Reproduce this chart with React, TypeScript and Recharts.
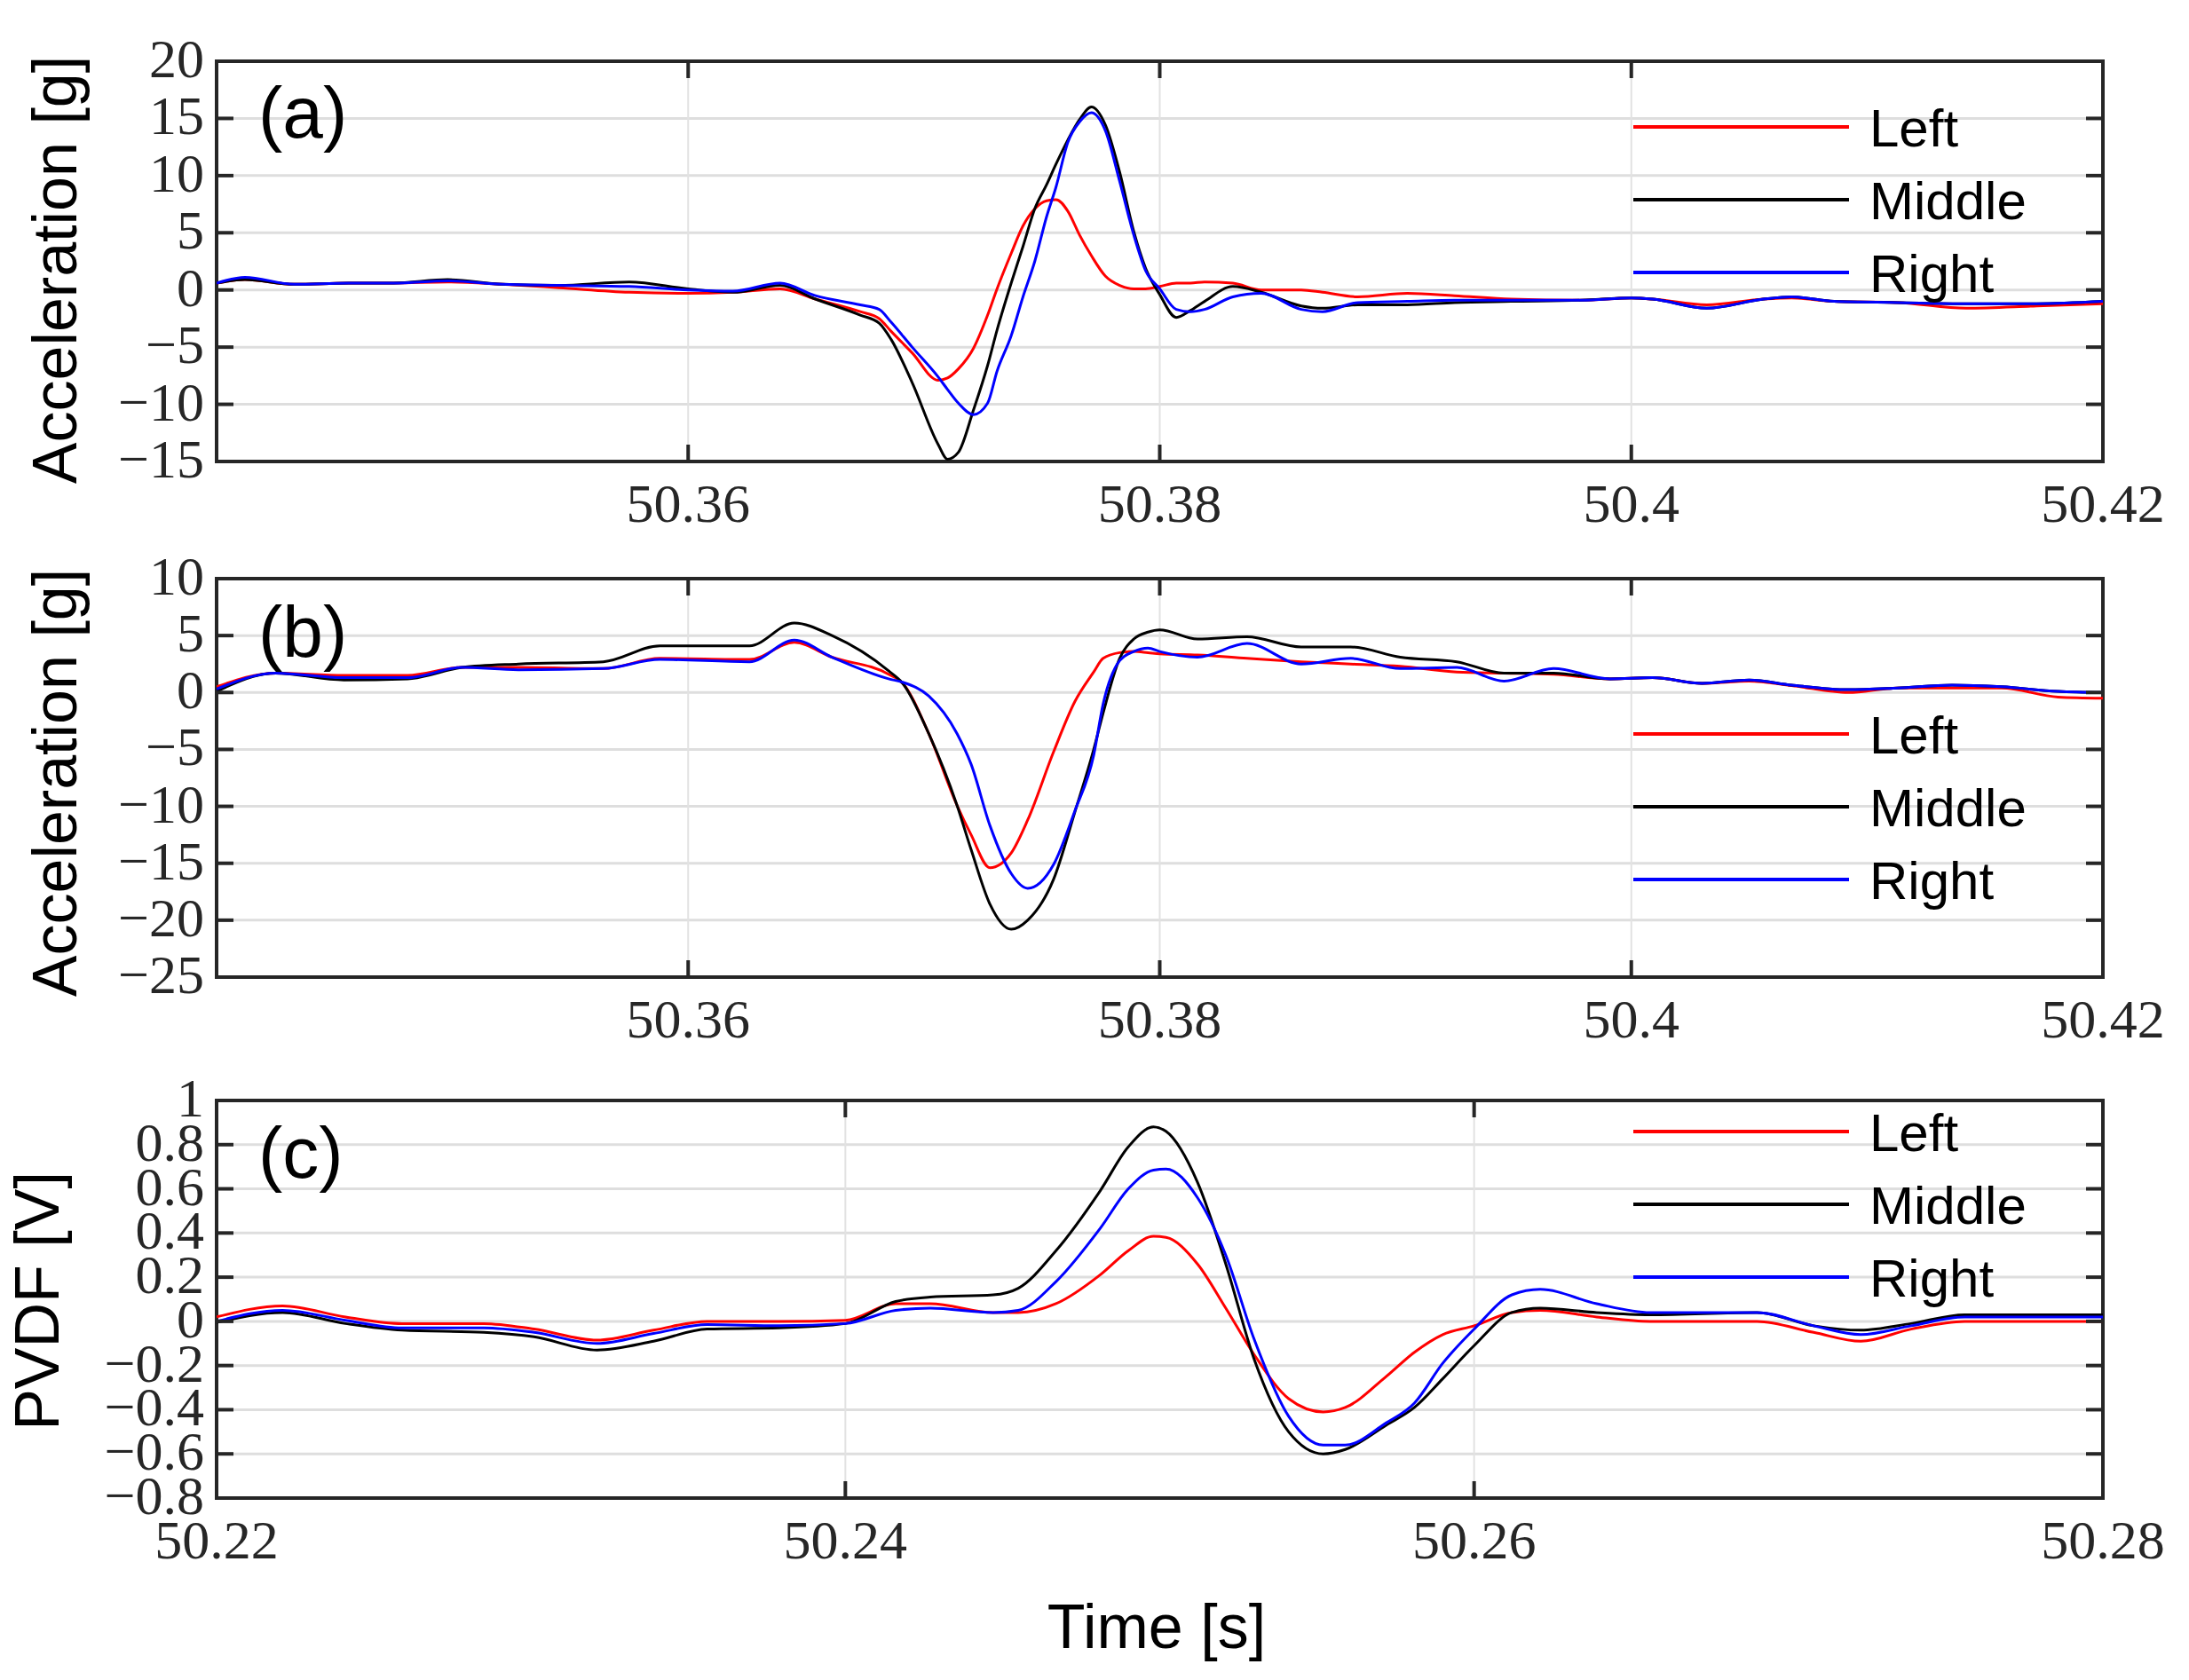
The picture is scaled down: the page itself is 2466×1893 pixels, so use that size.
import React from "react";
import {
  CartesianGrid,
  Legend,
  Line,
  LineChart,
  ReferenceArea,
  XAxis,
  YAxis,
} from "recharts";

// ---- data ----

// (a) acceleration, first event
const timeA = [
  50.34, 50.3412, 50.3433, 50.3456, 50.3475, 50.3498, 50.3521, 50.3545, 50.3575, 50.36,
  50.3619, 50.3639, 50.3654, 50.3673, 50.3681, 50.3686, 50.3695, 50.3706, 50.371, 50.37146,
  50.3721, 50.3727, 50.3731, 50.3737, 50.3742, 50.3747, 50.3752, 50.3756, 50.3761, 50.3766,
  50.3771, 50.3777, 50.3783, 50.3789, 50.3794, 50.38, 50.3807, 50.3813, 50.3819, 50.3831,
  50.3843, 50.386, 50.3869, 50.3884, 50.3905, 50.3925, 50.3949, 50.3979, 50.4, 50.4009,
  50.4032, 50.4056, 50.4068, 50.4086, 50.4113, 50.4142, 50.4172, 50.42,
];
const leftA = [
  0.6, 0.9, 0.5, 0.6, 0.6, 0.7, 0.5, 0.2, -0.2, -0.3,
  -0.2, 0.1, -0.8, -1.9, -2.5, -3.6, -5.5, -7.9, -7.7, -6.9,
  -5.1, -2.2, 0.1, 3.2, 5.6, 7.1, 7.8, 7.9, 6.9, 4.8,
  3.0, 1.2, 0.4, 0.1, 0.1, 0.3, 0.6, 0.6, 0.7, 0.6,
  0.0, 0.0, -0.2, -0.6, -0.3, -0.5, -0.8, -0.9, -0.7, -0.8,
  -1.3, -0.8, -0.7, -1.0, -1.1, -1.6, -1.4, -1.2,
];
const middleA = [
  0.6, 0.9, 0.5, 0.6, 0.6, 0.9, 0.5, 0.4, 0.7, 0.1,
  -0.2, 0.4, -0.8, -2.2, -2.9, -4.3, -8.1, -13.5, -14.8, -14.2,
  -10.5, -6.6, -3.5, 0.6, 3.8, 7.1, 9.2, 11.0, 13.1, 14.9,
  16.0, 14.4, 10.3, 5.1, 1.9, -0.4, -2.4, -1.8, -1.0, 0.3,
  -0.2, -1.4, -1.6, -1.3, -1.3, -1.1, -1.0, -0.9, -0.7, -0.8,
  -1.6, -0.8, -0.6, -1.0, -1.1, -1.2, -1.2, -1.0,
];
const rightA = [
  0.6, 1.1, 0.5, 0.6, 0.6, 0.8, 0.5, 0.4, 0.3, 0.0,
  -0.1, 0.6, -0.5, -1.3, -1.7, -2.8, -5.0, -7.6, -8.7, -9.9,
  -10.9, -9.9, -7.1, -4.0, -0.6, 2.5, 6.4, 9.0, 12.9, 14.7,
  15.5, 13.9, 9.5, 4.8, 1.7, 0.1, -1.7, -1.9, -1.7, -0.6,
  -0.3, -1.7, -1.9, -1.1, -1.0, -0.9, -0.9, -0.9, -0.7, -0.8,
  -1.6, -0.8, -0.6, -1.0, -1.1, -1.2, -1.2, -1.0,
];

// (b) acceleration, second event
const timeB = [
  50.34, 50.3425, 50.3454, 50.3481, 50.3504, 50.3528, 50.3564, 50.3588, 50.3626, 50.3645,
  50.3661, 50.3685, 50.3691, 50.3702, 50.3714, 50.372, 50.3728, 50.3737, 50.3744, 50.3755,
  50.3764, 50.3772, 50.3776, 50.3783, 50.3789, 50.3795, 50.38, 50.3816, 50.3837, 50.386,
  50.3881, 50.3902, 50.3926, 50.3946, 50.3967, 50.3991, 50.4009, 50.403, 50.405, 50.4068,
  50.4092, 50.4113, 50.4136, 50.4157, 50.4181, 50.42,
];
const leftB = [
  0.5, 1.7, 1.5, 1.5, 2.2, 2.2, 2.1, 3.0, 2.9, 4.4,
  3.1, 1.6, 0.8, -3.6, -9.9, -12.5, -15.4, -14.1, -11.2, -5.2,
  -0.8, 1.8, 3.0, 3.5, 3.6, 3.5, 3.4, 3.3, 3.0, 2.7,
  2.5, 2.3, 1.8, 1.7, 1.6, 1.2, 1.3, 0.8, 1.0, 0.6,
  0.0, 0.4, 0.4, 0.4, -0.4, -0.5,
];
const middleB = [
  0.1, 1.7, 1.1, 1.2, 2.2, 2.5, 2.7, 4.1, 4.1, 6.1,
  5.0, 1.9, 0.8, -3.6, -9.9, -13.8, -18.6, -20.8, -20.0, -16.4,
  -10.5, -5.0, -1.8, 3.0, 4.7, 5.3, 5.5, 4.7, 4.9, 4.0,
  4.0, 3.1, 2.7, 1.7, 1.7, 1.2, 1.3, 0.8, 1.1, 0.65,
  0.25, 0.4, 0.65, 0.5, 0.1, 0.0,
];
const rightB = [
  0.3, 1.7, 1.3, 1.3, 2.2, 2.0, 2.1, 2.9, 2.7, 4.6,
  3.1, 1.2, 0.9, -0.3, -3.6, -6.3, -11.7, -15.9, -17.2, -15.1,
  -10.4, -5.5, -1.0, 2.8, 3.6, 3.9, 3.6, 3.1, 4.3, 2.5,
  3.0, 2.1, 2.2, 1.0, 2.1, 1.2, 1.3, 0.8, 1.1, 0.65,
  0.25, 0.4, 0.65, 0.5, 0.1, 0.0,
];

// (c) PVDF voltage
const timeC = [
  50.22, 50.2221, 50.2241, 50.2259, 50.2285, 50.2301, 50.2321, 50.2339, 50.2356, 50.2379,
  50.24, 50.2416, 50.2427, 50.2447, 50.2455, 50.2467, 50.2481, 50.249, 50.2498, 50.2502,
  50.2512, 50.2521, 50.253, 50.2541, 50.2552, 50.2559, 50.2572, 50.2581, 50.259, 50.26,
  50.2612, 50.2621, 50.2639, 50.2656, 50.269, 50.2708, 50.2723, 50.2739, 50.2756, 50.28,
];
const leftC = [
  0.02, 0.07, 0.02, -0.01, -0.01, -0.035, -0.085, -0.04, 0.0, 0.0,
  0.005, 0.08, 0.08, 0.04, 0.04, 0.08, 0.21, 0.32, 0.385, 0.38,
  0.26, 0.06, -0.15, -0.35, -0.41, -0.39, -0.25, -0.14, -0.06, -0.02,
  0.04, 0.05, 0.02, 0.0, 0.0, -0.05, -0.09, -0.035, 0.0, 0.0,
];
const middleC = [
  -0.005, 0.04, -0.01, -0.04, -0.05, -0.07, -0.13, -0.09, -0.035, -0.03,
  -0.01, 0.09, 0.11, 0.12, 0.15, 0.32, 0.59, 0.79, 0.88, 0.86,
  0.63, 0.26, -0.17, -0.5, -0.6, -0.58, -0.47, -0.39, -0.26, -0.11,
  0.04, 0.06, 0.04, 0.03, 0.04, -0.02, -0.04, -0.01, 0.03, 0.03,
];
const rightC = [
  0.0, 0.05, 0.005, -0.03, -0.03, -0.05, -0.1, -0.055, -0.015, -0.02,
  -0.01, 0.05, 0.06, 0.04, 0.05, 0.18, 0.42, 0.6, 0.685, 0.69,
  0.56, 0.3, -0.08, -0.43, -0.56, -0.56, -0.46, -0.37, -0.19, -0.035,
  0.12, 0.145, 0.08, 0.04, 0.04, -0.02, -0.06, -0.02, 0.02, 0.02,
];

const xTicksAB = [50.36, 50.38, 50.4, 50.42];
const xTicksC = [50.22, 50.24, 50.26, 50.28];
const yTicksA = [-15, -10, -5, 0, 5, 10, 15, 20];
const yTicksB = [-25, -20, -15, -10, -5, 0, 5, 10];
const yTicksC = [-0.8, -0.6, -0.4, -0.2, 0, 0.2, 0.4, 0.6, 0.8, 1];

const SERIES = [
  { key: "left", name: "Left", color: "#ff0000" },
  { key: "middle", name: "Middle", color: "#000000" },
  { key: "right", name: "Right", color: "#0000ff" },
];

// ---- layout ----
const W = 2466;
const H = 1893;
const PLOT_LEFT = 244;
const PLOT_RIGHT = 2369;
const X_AXIS_H = 60;
const TICK_LEN = 19;
const AXIS = "#262626";
const SERIF = "'Liberation Serif', 'DejaVu Serif', serif";
const SANS = "'Liberation Sans', Arial, sans-serif";

const rows = (t: number[], l: number[], m: number[], r: number[]) =>
  t.map((v, i) => ({ t: v, left: l[i], middle: m[i], right: r[i] }));

const fmtX = (v: number) => String(Number(v.toFixed(2)));
const fmtY = (v: number) => {
  const s = String(Number(Math.abs(v).toFixed(1)));
  return v < 0 ? "\u2212" + s : s;
};

interface PanelProps {
  top: number;
  bottom: number;
  data: { t: number; left: number; middle: number; right: number }[];
  xDomain: [number, number];
  xTicks: number[];
  yDomain: [number, number];
  yTicks: number[];
  legendTop: number;
}

function LegendBox({ payload }: { payload?: { value: string; color: string }[] }) {
  const items = payload?.length
    ? payload
    : SERIES.map((s) => ({ value: s.name, color: s.color }));
  return (
    <svg width={420} height={260} style={{ overflow: "visible" }}>
      {items.map((it, i) => (
        <g key={it.value}>
          <line
            x1={2}
            x2={245}
            y1={20 + i * 82}
            y2={20 + i * 82}
            stroke={it.color}
            strokeWidth={4}
          />
          <text
            x={268}
            y={20 + i * 82 + 22}
            fontFamily={SANS}
            fontSize={60}
            fill="#000"
          >
            {it.value}
          </text>
        </g>
      ))}
    </svg>
  );
}

function Panel({ top, bottom, data, xDomain, xTicks, yDomain, yTicks, legendTop }: PanelProps) {
  const plotH = bottom - top;
  const plotW = PLOT_RIGHT - PLOT_LEFT;

  const xTick = (p: any) => {
    const { x, y, payload } = p;
    return (
      <g>
        <line x1={x} x2={x} y1={y} y2={y - TICK_LEN} stroke={AXIS} strokeWidth={4} />
        <line x1={x} x2={x} y1={y - plotH} y2={y - plotH + TICK_LEN} stroke={AXIS} strokeWidth={4} />
        <text x={x} y={y + 68} textAnchor="middle" fontFamily={SERIF} fontSize={62} fill={AXIS}>
          {fmtX(payload.value)}
        </text>
      </g>
    );
  };

  const yTick = (p: any) => {
    const { x, y, payload } = p;
    return (
      <g>
        <line x1={x} x2={x + TICK_LEN} y1={y} y2={y} stroke={AXIS} strokeWidth={4} />
        <line x1={x + plotW} x2={x + plotW - TICK_LEN} y1={y} y2={y} stroke={AXIS} strokeWidth={4} />
        <text x={x - 14} y={y + 18} textAnchor="end" fontFamily={SERIF} fontSize={62} fill={AXIS}>
          {fmtY(payload.value)}
        </text>
      </g>
    );
  };

  return (
    <div style={{ position: "absolute", left: 0, top: 0 }}>
      <LineChart
        width={W}
        height={H}
        data={data}
        margin={{ top, right: W - PLOT_RIGHT, bottom: H - bottom - X_AXIS_H, left: 0 }}
      >
        <CartesianGrid vertical={false} stroke="#dedede" strokeWidth={3} />
        <CartesianGrid horizontal={false} stroke="#e2e2e2" strokeWidth={2} />
        <XAxis
          dataKey="t"
          type="number"
          domain={xDomain}
          ticks={xTicks}
          interval={0}
          height={X_AXIS_H}
          tickSize={0}
          tickMargin={0}
          axisLine={false}
          tickLine={false}
          tick={xTick}
          allowDataOverflow
        />
        <YAxis
          type="number"
          domain={yDomain}
          ticks={yTicks}
          interval={0}
          width={PLOT_LEFT}
          tickSize={0}
          tickMargin={0}
          axisLine={false}
          tickLine={false}
          tick={yTick}
          allowDataOverflow
        />
        <ReferenceArea
          x1={xDomain[0]}
          x2={xDomain[1]}
          y1={yDomain[0]}
          y2={yDomain[1]}
          fill="none"
          fillOpacity={0}
          stroke={AXIS}
          strokeWidth={4}
          ifOverflow="visible"
        />
        {SERIES.map((s) => (
          <Line
            key={s.key}
            type="monotone"
            dataKey={s.key}
            name={s.name}
            stroke={s.color}
            strokeWidth={3}
            dot={false}
            activeDot={false}
            isAnimationActive={false}
          />
        ))}
        <Legend
          layout="horizontal"
          verticalAlign="middle"
          align="center"
          content={(props: any) => <LegendBox payload={props.payload} />}
          wrapperStyle={{ left: 1838, top: legendTop, width: 420, height: 260 }}
        />
      </LineChart>
    </div>
  );
}

export default function App() {
  return (
    <div
      style={{
        position: "absolute",
        left: 0,
        top: 0,
        width: W,
        height: H,
        background: "#fff",
        overflow: "hidden",
      }}
    >
      <Panel
        top={69}
        bottom={520}
        data={rows(timeA, leftA, middleA, rightA)}
        xDomain={[50.34, 50.42]}
        xTicks={xTicksAB}
        yDomain={[-15, 20]}
        yTicks={yTicksA}
        legendTop={123}
      />
      <Panel
        top={652}
        bottom={1101}
        data={rows(timeB, leftB, middleB, rightB)}
        xDomain={[50.34, 50.42]}
        xTicks={xTicksAB}
        yDomain={[-25, 10]}
        yTicks={yTicksB}
        legendTop={807}
      />
      <Panel
        top={1240}
        bottom={1688}
        data={rows(timeC, leftC, middleC, rightC)}
        xDomain={[50.22, 50.28]}
        xTicks={xTicksC}
        yDomain={[-0.8, 1]}
        yTicks={yTicksC}
        legendTop={1255}
      />
      <svg
        width={W}
        height={H}
        style={{ position: "absolute", left: 0, top: 0, pointerEvents: "none" }}
      >
        <g fontFamily={SANS} fill="#000">
          <text x={86} y={304} fontSize={70} textAnchor="middle" transform="rotate(-90 86 304)">
            Acceleration [g]
          </text>
          <text x={86} y={882} fontSize={70} textAnchor="middle" transform="rotate(-90 86 882)">
            Acceleration [g]
          </text>
          <text x={66} y={1466} fontSize={70} textAnchor="middle" transform="rotate(-90 66 1466)">
            PVDF [V]
          </text>
          <text x={1303} y={1857} fontSize={70} textAnchor="middle">
            Time [s]
          </text>
          <text x={291} y={155} fontSize={82}>(a)</text>
          <text x={291} y={740} fontSize={82}>(b)</text>
          <text x={291} y={1327} fontSize={82}>(c)</text>
        </g>
      </svg>
    </div>
  );
}
